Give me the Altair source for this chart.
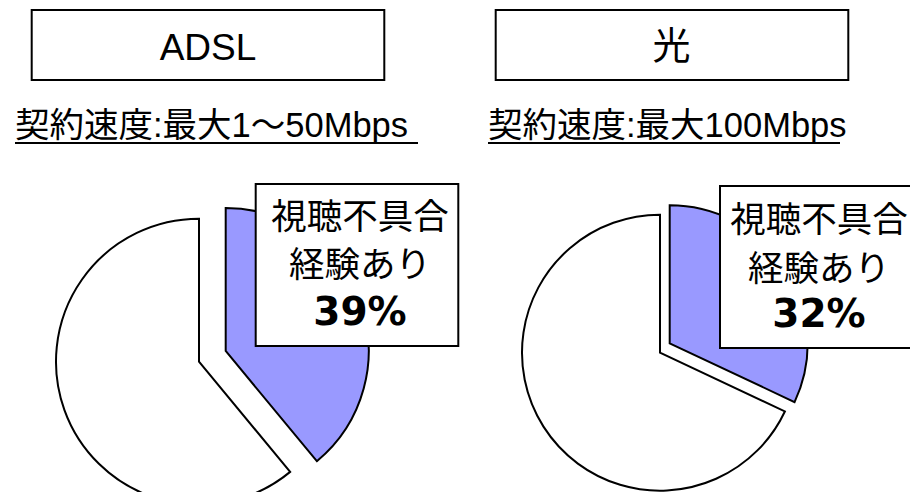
import math
import altair as alt
import pandas as pd

# ---- data ----
services = ["ADSL", "光"]
speed_labels = ["契約速度:最大1～50Mbps", "契約速度:最大100Mbps"]
categories = ["視聴不具合経験あり", "不具合なし"]
problem_share = [39, 32]
other_share = [61, 68]
label_lines = ["視聴不具合", "経験あり"]

# ---- layout (styles/positions, not data) ----
FONT = "Noto Sans CJK JP"
LATIN_FONT = "Liberation Sans, Noto Sans CJK JP"
PCT_FONT = "DejaVu Sans"
layout = {
    "ADSL": dict(title_box=(23.7, 2, 376.3, 72), title_xy=(200, 41), title_size=37,
                 sub_x=7, sub_line=(7, 410), white=(191, 353.7), blue=(217.7, 343), r=143,
                 lbl_box=(247.7, 176, 450.3, 338), lbl_x=352, lbl_y=(210, 258, 305)),
    "光": dict(title_box=(487.7, 2, 840.3, 72), title_xy=(663.5, 40), title_size=38,
              sub_x=480, sub_line=(480, 832), white=(652, 344.7), blue=(661.7, 335.3), r=138,
              lbl_box=(712, 178, 914.6, 340), lbl_x=811, lbl_y=(213, 262, 307)),
}

pie_rows = []
for s, p, o in zip(services, problem_share, other_share):
    pie_rows.append({"service": s, "category": categories[0], "value": p, "order": 0})
    pie_rows.append({"service": s, "category": categories[1], "value": o, "order": 1})
pie_df = pd.DataFrame(pie_rows)
info_df = pd.DataFrame({"service": services, "speed": speed_labels, "share": problem_share})

theta_scale = alt.Scale(domain=[0, 100], range=[0, 2 * math.pi])
layers = []
for s in services:
    L = layout[s]
    base = (alt.Chart(pie_df)
            .transform_filter(alt.datum.service == s)
            .transform_stack(stack="value", groupby=["service"], as_=["v0", "v1"],
                             sort=[alt.SortField("order", order="ascending")]))
    white = base.transform_filter(alt.datum.order == 1).mark_arc(
        outerRadius=L["r"], fill="white", stroke="black", strokeWidth=2
    ).encode(theta=alt.Theta("v0:Q", scale=theta_scale), theta2="v1:Q",
             x=alt.value(L["white"][0]), y=alt.value(L["white"][1]))
    blue = base.transform_filter(alt.datum.order == 0).mark_arc(
        outerRadius=L["r"], fill="#9999FF", stroke="black", strokeWidth=2
    ).encode(theta=alt.Theta("v0:Q", scale=theta_scale), theta2="v1:Q",
             x=alt.value(L["blue"][0]), y=alt.value(L["blue"][1]))

    info = alt.Chart(info_df).transform_filter(alt.datum.service == s)
    x0, y0, x1, y1 = L["title_box"]
    tbox = info.mark_rect(fill="white", stroke="black", strokeWidth=2).encode(
        x=alt.value(x0), x2=alt.value(x1), y=alt.value(y0), y2=alt.value(y1))
    ttext = info.mark_text(font=LATIN_FONT, fontSize=L["title_size"], align="center",
                           baseline="middle", color="black").encode(
        x=alt.value(L["title_xy"][0]), y=alt.value(L["title_xy"][1]), text="service:N")
    sub = info.mark_text(font=LATIN_FONT, fontSize=34.5, align="left", baseline="alphabetic",
                         color="black").encode(
        x=alt.value(L["sub_x"]), y=alt.value(129), text="speed:N")
    uline = info.mark_rule(color="black", strokeWidth=2).encode(
        x=alt.value(L["sub_line"][0]), x2=alt.value(L["sub_line"][1]), y=alt.value(135))

    bx0, by0, bx1, by1 = L["lbl_box"]
    lbox = info.mark_rect(fill="white", stroke="black", strokeWidth=2).encode(
        x=alt.value(bx0), x2=alt.value(bx1), y=alt.value(by0), y2=alt.value(by1))
    line1 = info.transform_calculate(t=f"'{label_lines[0]}'").mark_text(
        font=FONT, fontSize=35.5, align="center", baseline="middle", color="black").encode(
        x=alt.value(L["lbl_x"]), y=alt.value(L["lbl_y"][0]), text="t:N")
    line2 = info.transform_calculate(t=f"'{label_lines[1]}'").mark_text(
        font=FONT, fontSize=35.5, align="center", baseline="middle", color="black").encode(
        x=alt.value(L["lbl_x"]), y=alt.value(L["lbl_y"][1]), text="t:N")
    pct = info.transform_calculate(t="datum.share + '%'").mark_text(
        font=PCT_FONT, fontSize=39, fontWeight="bold", align="center", baseline="middle",
        color="black").encode(
        x=alt.value(L["lbl_x"]), y=alt.value(L["lbl_y"][2]), text="t:N")

    layers += [white, blue, tbox, ttext, sub, uline, lbox, line1, line2, pct]

chart = alt.layer(*layers).properties(
    width=902, height=484, padding=0, autosize="none", background="white"
).configure_view(stroke=None)

chart.save("out.html", embed_options={"renderer": "svg", "actions": False})
